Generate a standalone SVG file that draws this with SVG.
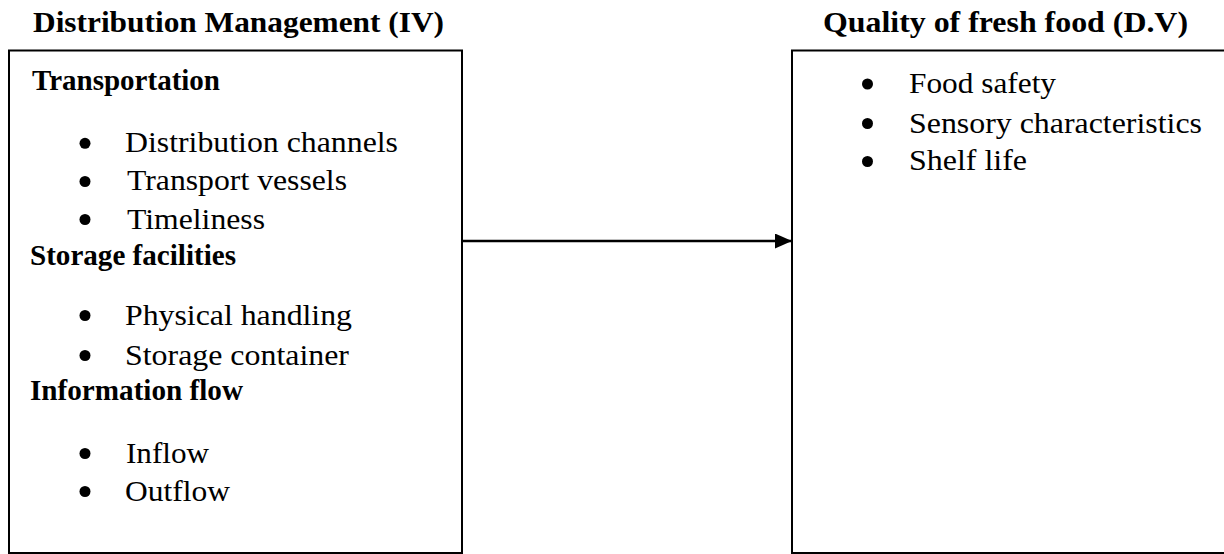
<svg xmlns="http://www.w3.org/2000/svg" width="1224" height="554" viewBox="0 0 1224 554">
<style>
text{font-family:"Liberation Serif","Times New Roman",serif;fill:#000}
.t{font-size:30px;font-weight:bold}
.h{font-size:29.5px;font-weight:bold}
.b{font-size:29.5px}
.box{fill:#fff;stroke:#000;stroke-width:2}
.dot{fill:#000}
</style>
<defs>
<marker id="ah" markerWidth="17" markerHeight="15" refX="17" refY="7.5" orient="auto" markerUnits="userSpaceOnUse">
<path d="M0,0 L17,7.5 L0,15 Z" fill="#000"/>
</marker>
</defs>
<rect width="1224" height="554" fill="#fff"/>
<g id="iv">
<text class="t" x="33" y="32" textLength="411" lengthAdjust="spacingAndGlyphs">Distribution Management (IV)</text>
<rect class="box" x="9" y="50.5" width="453" height="502.5"/>
<text class="h" x="32" y="90" textLength="188" lengthAdjust="spacingAndGlyphs">Transportation</text>
<circle class="dot" cx="85" cy="143.3" r="5.5"/>
<text class="b" x="125" y="152" textLength="273" lengthAdjust="spacingAndGlyphs">Distribution channels</text>
<circle class="dot" cx="85" cy="181.5" r="5.5"/>
<text class="b" x="127" y="190" textLength="220" lengthAdjust="spacingAndGlyphs">Transport vessels</text>
<circle class="dot" cx="85" cy="219.5" r="5.5"/>
<text class="b" x="127" y="228.5" textLength="138" lengthAdjust="spacingAndGlyphs">Timeliness</text>
<text class="h" x="30" y="265" textLength="206" lengthAdjust="spacingAndGlyphs">Storage facilities</text>
<circle class="dot" cx="85" cy="315.5" r="5.5"/>
<text class="b" x="125" y="324.5" textLength="227" lengthAdjust="spacingAndGlyphs">Physical handling</text>
<circle class="dot" cx="85" cy="355.5" r="5.5"/>
<text class="b" x="125" y="364.5" textLength="224" lengthAdjust="spacingAndGlyphs">Storage container</text>
<text class="h" x="30" y="400" textLength="213" lengthAdjust="spacingAndGlyphs">Information flow</text>
<circle class="dot" cx="85" cy="453.5" r="5.5"/>
<text class="b" x="126" y="462.5" textLength="83" lengthAdjust="spacingAndGlyphs">Inflow</text>
<circle class="dot" cx="85" cy="491.5" r="5.5"/>
<text class="b" x="125" y="500.5" textLength="105" lengthAdjust="spacingAndGlyphs">Outflow</text>
</g>
<g id="dv">
<text class="t" x="823" y="32" textLength="365" lengthAdjust="spacingAndGlyphs">Quality of fresh food (D.V)</text>
<rect class="box" x="792" y="50.5" width="440" height="502.5"/>
<circle class="dot" cx="867.5" cy="84" r="5.5"/>
<text class="b" x="909" y="92.5" textLength="147" lengthAdjust="spacingAndGlyphs">Food safety</text>
<circle class="dot" cx="867.5" cy="123.5" r="5.5"/>
<text class="b" x="909" y="132.5" textLength="293" lengthAdjust="spacingAndGlyphs">Sensory characteristics</text>
<circle class="dot" cx="867.5" cy="161.5" r="5.5"/>
<text class="b" x="909" y="170" textLength="118" lengthAdjust="spacingAndGlyphs">Shelf life</text>
</g>
<g id="connectors">
<line x1="462" y1="241" x2="792" y2="241" stroke="#000" stroke-width="2.5" marker-end="url(#ah)"/>
</g>
</svg>
